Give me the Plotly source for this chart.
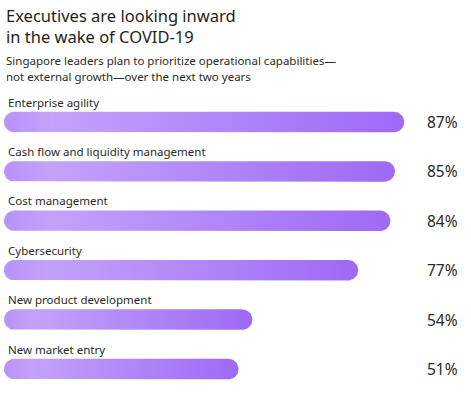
import numpy as np
import plotly.graph_objects as go

categories = ["Enterprise agility", "Cash flow and liquidity management", "Cost management",
              "Cybersecurity", "New product development", "New market entry"]
values = [87, 85, 84, 77, 54, 51]
value_labels = ["87%", "85%", "84%", "77%", "54%", "51%"]

title_lines = ["Executives are looking inward", "in the wake of COVID-19"]
subtitle_lines = ["Singapore leaders plan to prioritize operational capabilities\u2014",
                  "not external growth\u2014over the next two years"]

W, H = 471, 399
ML, MR, MT, MB = 4, 7, 90, 4
X_RANGE = [0, 100]
Y_TOP, Y_BOTTOM = -0.648, 5.526
plot_w = W - ML - MR
plot_h = H - MT - MB
px_per_x = plot_w / (X_RANGE[1] - X_RANGE[0])
px_per_y = plot_h / (Y_BOTTOM - Y_TOP)

bar_px = 20.5
ry = bar_px / 2 / px_per_y
rx = bar_px / 2 / px_per_x

colorscale = [[0, "#b892f8"], [0.12, "#c3a2fa"], [0.55, "#b086f8"], [1, "#9e69f5"]]
FONT = "Noto Sans"

fig = go.Figure()
t_right = np.linspace(-np.pi / 2, np.pi / 2, 25)
t_left = np.linspace(np.pi / 2, 3 * np.pi / 2, 25)
for i, (cat, v) in enumerate(zip(categories, values)):
    xs = np.concatenate([(v - rx) + rx * np.cos(t_right), rx + rx * np.cos(t_left)])
    ys = np.concatenate([i + ry * np.sin(t_right), i + ry * np.sin(t_left)])
    xs = np.append(xs, xs[0])
    ys = np.append(ys, ys[0])
    fig.add_trace(go.Scatter(
        x=xs, y=ys, mode="lines", fill="toself", line=dict(width=0),
        fillgradient=dict(type="horizontal", colorscale=colorscale),
        hoverinfo="skip", showlegend=False, name=cat))
    fig.add_annotation(x=0, y=i - 0.405, xref="x", yref="y", text=cat, showarrow=False,
                       xanchor="left", yanchor="middle", xshift=2,
                       font=dict(size=11.5, color="#2a2a2a", family=FONT))
    fig.add_annotation(x=0.991, y=i, xref="paper", yref="y", text=value_labels[i], showarrow=False,
                       xanchor="right", yanchor="middle",
                       font=dict(size=15.5, color="#2a2a2a", family=FONT))

# Title (two lines) and subtitle lines
fig.add_annotation(x=0, y=1, xref="paper", yref="paper", text="<br>".join(title_lines),
                   showarrow=False, xanchor="left", yanchor="top", align="left",
                   yshift=MT - 2,
                   font=dict(size=16.5, color="#1e1e1e", family=FONT))
sub_tops = [51, 67]
for line, top in zip(subtitle_lines, sub_tops):
    fig.add_annotation(x=0, y=1, xref="paper", yref="paper", text=line,
                       showarrow=False, xanchor="left", yanchor="top", align="left",
                       yshift=MT - top,
                       font=dict(size=11.5, color="#2a2a2a", family=FONT))

fig.update_layout(
    width=W, height=H,
    margin=dict(l=ML, r=MR, t=MT, b=MB),
    paper_bgcolor="white", plot_bgcolor="white",
    xaxis=dict(range=X_RANGE, visible=False, fixedrange=True),
    yaxis=dict(range=[Y_BOTTOM, Y_TOP], visible=False, fixedrange=True),
    showlegend=False,
)

fig.write_html("out.html", config={"displayModeBar": False},
               post_script="document.body.style.margin='0px';")
